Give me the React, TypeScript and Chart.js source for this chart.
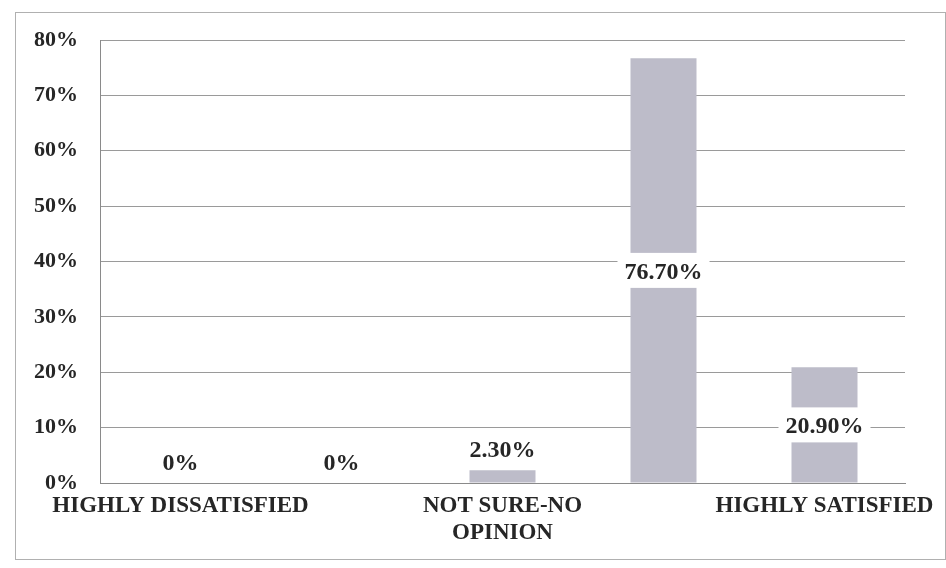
import React, { useEffect, useRef } from "react";
import { Chart, registerables } from "chart.js";

Chart.register(...registerables);

const categories = [
  "HIGHLY DISSATISFIED",
  "DISSATISFIED",
  "NOT SURE-NO OPINION",
  "SATISFIED",
  "HIGHLY SATISFIED",
];
const tickLabels: (string | string[])[] = [
  "HIGHLY DISSATISFIED",
  "",
  ["NOT SURE-NO", "OPINION"],
  "",
  "HIGHLY SATISFIED",
];
const values = [0, 0, 2.3, 76.7, 20.9];
const valueLabels = ["0%", "0%", "2.30%", "76.70%", "20.90%"];

const FONT = "'Liberation Serif', 'Times New Roman', serif";
const TEXT = "#262626";

const labelPlugin = {
  id: "barLabels",
  afterDatasetsDraw(chart: any) {
    const ctx = chart.ctx;
    const meta = chart.getDatasetMeta(0);
    ctx.save();
    ctx.font = `bold 24px ${FONT}`;
    ctx.textAlign = "center";
    ctx.textBaseline = "middle";
    meta.data.forEach((bar: any, i: number) => {
      const text = valueLabels[i];
      const w = ctx.measureText(text).width;
      const boxW = w + 14;
      const boxH = 35;
      const h = bar.base - bar.y;
      let cy: number;
      if (h > boxH + 6) cy = (bar.y + bar.base) / 2;
      else cy = bar.y - boxH / 2 - 4;
      ctx.fillStyle = "#ffffff";
      ctx.fillRect(bar.x - boxW / 2, cy - boxH / 2, boxW, boxH);
      ctx.fillStyle = TEXT;
      ctx.fillText(text, bar.x, cy + 2);
    });
    ctx.restore();
  },
};

export default function App() {
  const ref = useRef<HTMLCanvasElement | null>(null);
  useEffect(() => {
    if (!ref.current) return;
    const chart = new Chart(ref.current, {
      type: "bar",
      data: {
        labels: categories,
        datasets: [
          {
            data: values,
            backgroundColor: "#bdbcc9",
            borderWidth: 0,
            barPercentage: 0.41,
            categoryPercentage: 1,
          },
        ],
      },
      options: {
        animation: false,
        responsive: false,
        maintainAspectRatio: false,
        layout: { padding: { left: 8, top: 40, right: 41, bottom: 6 } },
        plugins: { legend: { display: false }, tooltip: { enabled: false } },
        scales: {
          x: {
            grid: { display: false, drawTicks: false },
            border: { display: true, color: "#8a8a8a", width: 1 },
            afterFit: (s: any) => {
              s.height = 79;
              s.paddingLeft = 0;
              s.paddingRight = 0;
            },
            ticks: {
              autoSkip: false,
              maxRotation: 0,
              padding: 10,
              color: TEXT,
              font: { family: FONT, size: 23, weight: "bold", lineHeight: 1.15 },
              callback: (_v: any, i: number) => tickLabels[i],
            },
          },
          y: {
            min: 0,
            max: 80,
            ticks: {
              stepSize: 10,
              padding: 22,
              color: TEXT,
              font: { family: FONT, size: 22, weight: "bold" },
              callback: (v: any) => `${v}%`,
            },
            grid: { color: "#9a9a9a", lineWidth: 1, drawTicks: false },
            border: { display: true, color: "#8a8a8a", width: 1 },
            afterFit: (s: any) => {
              s.width = 92;
              s.paddingTop = 0;
              s.paddingBottom = 0;
            },
          },
        },
      },
      plugins: [labelPlugin],
    });
    return () => chart.destroy();
  }, []);
  return (
    <div style={{ position: "fixed", left: 0, top: 0, width: 946, height: 568, background: "#fff" }}>
      <div
        style={{
          position: "absolute",
          left: 15,
          top: 12,
          width: 929,
          height: 546,
          border: "1px solid #b0b0b0",
        }}
      />
      <canvas ref={ref} width={946} height={568} style={{ position: "absolute", left: 0, top: 0 }} />
    </div>
  );
}
